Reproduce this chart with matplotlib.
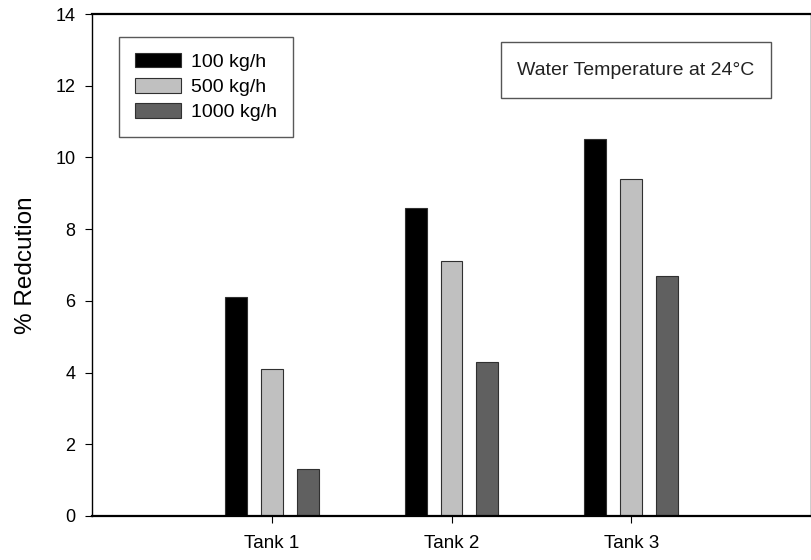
import numpy as np
import matplotlib
matplotlib.use("Agg")
import matplotlib.pyplot as plt
from matplotlib.patches import Rectangle

plt.rcParams['font.family'] = ['Liberation Sans', 'DejaVu Sans']

tanks = ["Tank 1", "Tank 2", "Tank 3"]
series = ["100 kg/h", "500 kg/h", "1000 kg/h"]
reduction = [
    [6.1, 8.6, 10.5],   # 100 kg/h
    [4.1, 7.1, 9.4],    # 500 kg/h
    [1.3, 4.3, 6.7],    # 1000 kg/h
]
colors = ["#000000", "#c0c0c0", "#606060"]

fig = plt.figure(figsize=(8.12, 5.6), dpi=100)
ax = fig.add_axes([0.1133, 0.0786, 0.8855, 0.8964])

x = np.arange(1, len(tanks) + 1)
width = 0.122
offsets = [-0.2, 0.0, 0.2]
for vals, c, off, lab in zip(reduction, colors, offsets, series):
    ax.bar(x + off, vals, width, color=c, edgecolor="#303030", linewidth=0.8, label=lab)

ax.set_xlim(0, 4)
ax.set_ylim(0, 14)
ax.set_xticks(x)
ax.set_xticklabels(tanks, fontsize=13.5)
ax.set_yticks(np.arange(0, 15, 2))
ax.tick_params(axis='y', labelsize=13, direction='out', length=5, width=0.8, pad=7)
ax.tick_params(axis='x', direction='out', length=5, width=0.8, pad=9)
ax.set_ylabel("% Redcution", fontsize=17.5)
ax.yaxis.set_label_coords(-0.077, 0.5)
for s in ax.spines.values():
    s.set_linewidth(1.0)
ax.spines['bottom'].set_linewidth(1.6)
ax.spines['top'].set_linewidth(1.6)

leg = ax.legend(loc='upper left', bbox_to_anchor=(0.0376, 0.954), fontsize=14,
                frameon=True, fancybox=False, edgecolor="#303030",
                handlelength=2.4, handleheight=0.77, handletextpad=0.5,
                labelspacing=0.38, borderpad=0.8, borderaxespad=0)
leg.get_frame().set_linewidth(1.0)

# text box
ax.add_patch(Rectangle((0.569, 0.8327), 0.3755, 0.1116, transform=ax.transAxes,
                       facecolor='white', edgecolor='#555555', linewidth=1.0, zorder=3))
ax.text(0.7566, 0.888, "Water Temperature at 24°C", transform=ax.transAxes,
        ha='center', va='center', fontsize=14, color='#222222', zorder=4)

fig.savefig("out.png", dpi=100)
